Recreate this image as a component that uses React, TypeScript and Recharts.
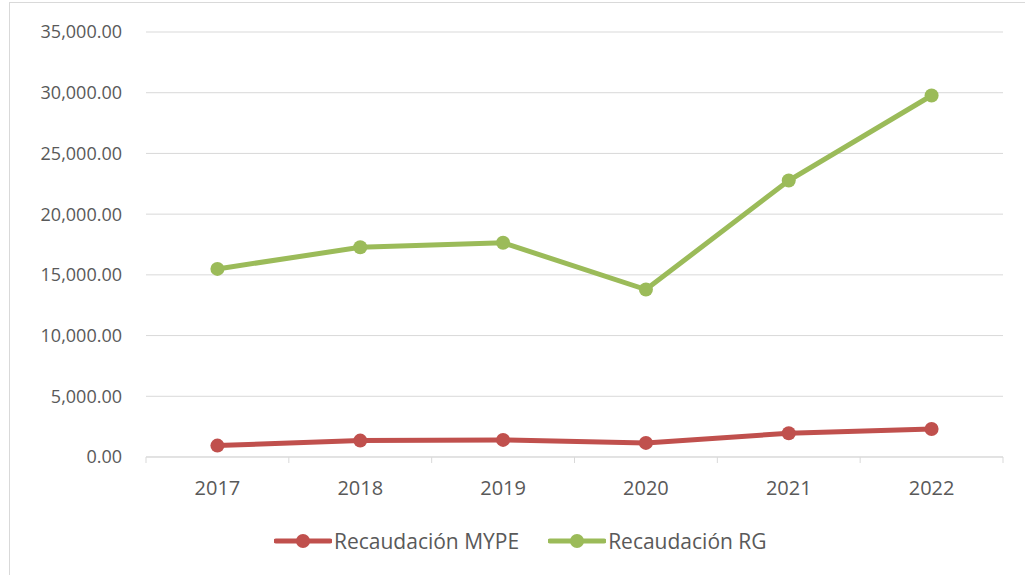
import React from "react";
import { LineChart, Line, XAxis, YAxis, CartesianGrid, Legend } from "recharts";

const years = ["2017", "2018", "2019", "2020", "2021", "2022"];
const mypeValues = [940, 1350, 1410, 1160, 1950, 2310];
const rgValues = [15490, 17270, 17640, 13790, 22770, 29770];
const yTicks = [0, 5000, 10000, 15000, 20000, 25000, 30000, 35000];

const seriesNames = ["Recaudación MYPE", "Recaudación RG"];
const seriesColors = ["#C0504D", "#9BBB59"];

const data = years.map((y, i) => ({ year: y, mype: mypeValues[i], rg: rgValues[i] }));

const FONT = "'Open Sans', sans-serif";
const TEXT = "#595959";
const GRID = "#d9d9d9";
const PLOT_W = 857;
const HALF_BAND = PLOT_W / years.length / 2;

const fmt = (v: number) =>
  v.toLocaleString("en-US", { minimumFractionDigits: 2, maximumFractionDigits: 2 });

const XTick = (props: any) => {
  const { x, y, payload, index, visibleTicksCount } = props;
  const isLast = index === (visibleTicksCount ?? years.length) - 1;
  return (
    <g>
      <line x1={x - HALF_BAND} x2={x - HALF_BAND} y1={y} y2={y + 6} stroke={GRID} strokeWidth={1} />
      {isLast && <line x1={x + HALF_BAND} x2={x + HALF_BAND} y1={y} y2={y + 6} stroke={GRID} strokeWidth={1} />}
      <text x={x} y={y + 31} dy="0.355em" textAnchor="middle" fill={TEXT} fontSize={20} fontFamily={FONT}>
        {payload.value}
      </text>
    </g>
  );
};

const LegendContent = () => (
  <div style={{ display: "flex", justifyContent: "flex-start", paddingLeft: 274, alignItems: "center", height: 30 }}>
    {seriesNames.map((n, i) => (
      <div key={n} style={{ display: "flex", alignItems: "center", marginRight: 29 }}>
        <svg width={58} height={20}>
          <line x1={2} x2={56} y1={10} y2={10} stroke={seriesColors[i]} strokeWidth={5} strokeLinecap="round" />
          <circle cx={29} cy={10} r={7} fill={seriesColors[i]} />
        </svg>
        <span style={{ fontFamily: FONT, fontSize: 21, color: TEXT, marginLeft: 2 }}>{n}</span>
      </div>
    ))}
  </div>
);

export default function App() {
  return (
    <div style={{ position: "absolute", left: 0, top: 0, width: 1025, height: 575, background: "#fff", overflow: "hidden" }}>
      <div style={{ position: "absolute", left: 9, top: 2, width: 1040, height: 600, border: `1px solid ${GRID}` }} />
      <div style={{ position: "absolute", left: 0, top: 0 }}>
        <LineChart width={1025} height={575} data={data} margin={{ top: 32, right: 22, left: 0, bottom: 8 }}>
          <CartesianGrid vertical={false} stroke={GRID} strokeWidth={1} />
          <XAxis
            dataKey="year"
            height={80}
            padding={{ left: HALF_BAND, right: HALF_BAND }}
            axisLine={{ stroke: GRID, strokeWidth: 1 }}
            tickLine={false}
            tickSize={0}
            tickMargin={0}
            tick={<XTick />}
            interval={0}
          />
          <YAxis
            width={146}
            domain={[0, 35000]}
            ticks={yTicks}
            axisLine={false}
            tickLine={false}
            tickSize={0}
            tickMargin={24}
            tickFormatter={fmt}
            tick={{ fill: TEXT, fontSize: 18, fontFamily: FONT }}
          />
          <Legend
            verticalAlign="bottom"
            content={<LegendContent />}
            wrapperStyle={{ height: 30, top: 526, bottom: "auto", left: 0, width: 1025 }}
          />
          <Line
            type="linear"
            dataKey="mype"
            name={seriesNames[0]}
            stroke={seriesColors[0]}
            strokeWidth={5}
            dot={{ r: 7, fill: seriesColors[0], stroke: seriesColors[0], strokeWidth: 0 }}
            isAnimationActive={false}
          />
          <Line
            type="linear"
            dataKey="rg"
            name={seriesNames[1]}
            stroke={seriesColors[1]}
            strokeWidth={5}
            dot={{ r: 7, fill: seriesColors[1], stroke: seriesColors[1], strokeWidth: 0 }}
            isAnimationActive={false}
          />
        </LineChart>
      </div>
    </div>
  );
}
